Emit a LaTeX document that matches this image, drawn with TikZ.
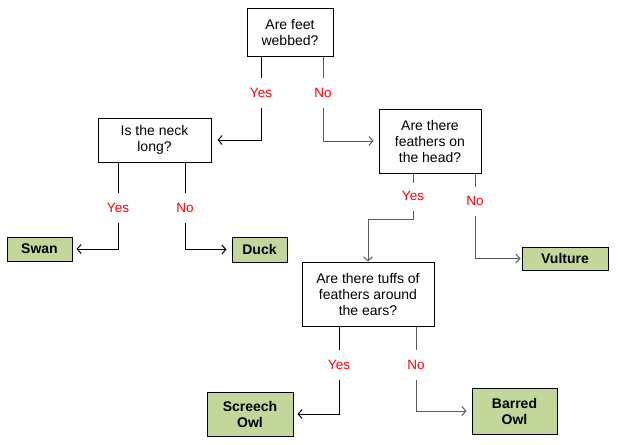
\documentclass[tikz,border=0pt]{standalone}
\usepackage{fontspec}
\setmainfont{Liberation Sans}
\usepackage{tikz}
\usetikzlibrary{arrows.meta,positioning,calc}
\definecolor{leafgreen}{HTML}{C4D79B}
\definecolor{linegray}{HTML}{5A5A5A}

\begin{document}
\begin{tikzpicture}[x=1pt,y=-1pt,
  question/.style={draw,line width=1pt,fill=white,align=center,inner sep=2pt,font=\fontsize{14}{16}\selectfont},
  answer/.style={draw,line width=1pt,fill=leafgreen,align=center,inner sep=2pt,font=\fontsize{14}{16}\selectfont\bfseries},
  choice/.style={text=red,minimum height=30,inner sep=0pt,font=\fontsize{13.5}{16}\selectfont},
  link/.style={line width=1pt,-{Straight Barb[length=4pt,width=9pt]},shorten >=4pt}]
\useasboundingbox (0,0) rectangle (620,444);
\node[question,minimum width=86,minimum height=47] (feet) at (290,32.5){Are feet\\webbed?};
\node[question,minimum width=113,minimum height=44] (neck) at (154.5,140){Is the neck\\long?};
\node[question,minimum width=102,minimum height=64] (head) at (430,141){Are there\\feathers on\\the head?};
\node[question,minimum width=132,minimum height=64] (tuffs) at (368,294){Are there tuffs of\\feathers around\\the ears?};
\node[answer,minimum width=65,minimum height=24] (swan) at (39.5,249){Swan};
\node[answer,minimum width=55,minimum height=25] (duck) at (259.5,249.5){Duck};
\node[answer,minimum width=86,minimum height=23] (vulture) at (565,258.5){Vulture};
\node[answer,minimum width=86,minimum height=44] (screech) at (250,414){Screech\\Owl};
\node[answer,minimum width=85,minimum height=46] (barred) at (514.5,411){Barred\\Owl};
\node[choice] (feetyes) at (261,93){Yes};
\node[choice] (feetno) at (323,93){No};
\node[choice] (neckyes) at (118,208){Yes};
\node[choice] (neckno) at (185,208){No};
\node[choice] (headyes) at (413,196){Yes};
\node[choice] (headno) at (475,201){No};
\node[choice] (tuffsyes) at (339,365){Yes};
\node[choice] (tuffsno) at (416,365){No};
% feet
\draw[line width=1pt] (feet.south -| feetyes) -- (feetyes.north);
\draw[link,shorten >=6pt] (feetyes.south) |- (neck.east);
\draw[line width=1pt,linegray] (feet.south -| feetno) -- (feetno.north);
\draw[link,linegray,shorten >=5pt] (feetno.south) |- (head.west);
% neck
\draw[line width=1pt] (neck.south -| neckyes) -- (neckyes.north);
\draw[link] (neckyes.south) |- (swan.east);
\draw[line width=1pt] (neck.south -| neckno) -- (neckno.north);
\draw[link,shorten >=5pt] (neckno.south) |- (duck.west);
% head
\draw[line width=1pt,linegray] (head.south -| headyes) -- ++(0,9);
\draw[link,linegray,shorten >=0pt] (headyes.south) -- ++(0,8) -| (tuffs.north);
\draw[line width=1pt,linegray] (head.south -| headno) -- ++(0,13);
\draw[link,linegray,shorten >=1pt] (headno.south) |- (vulture.west);
% tuffs
\draw[line width=1pt] (tuffs.south -| tuffsyes) -- (tuffsyes.north);
\draw[link] (tuffsyes.south) |- (screech.east);
\draw[line width=1pt,linegray] (tuffs.south -| tuffsno) -- (tuffsno.north);
\draw[link,linegray,shorten >=5pt] (tuffsno.south) |- (barred.west);
\end{tikzpicture}
\end{document}
